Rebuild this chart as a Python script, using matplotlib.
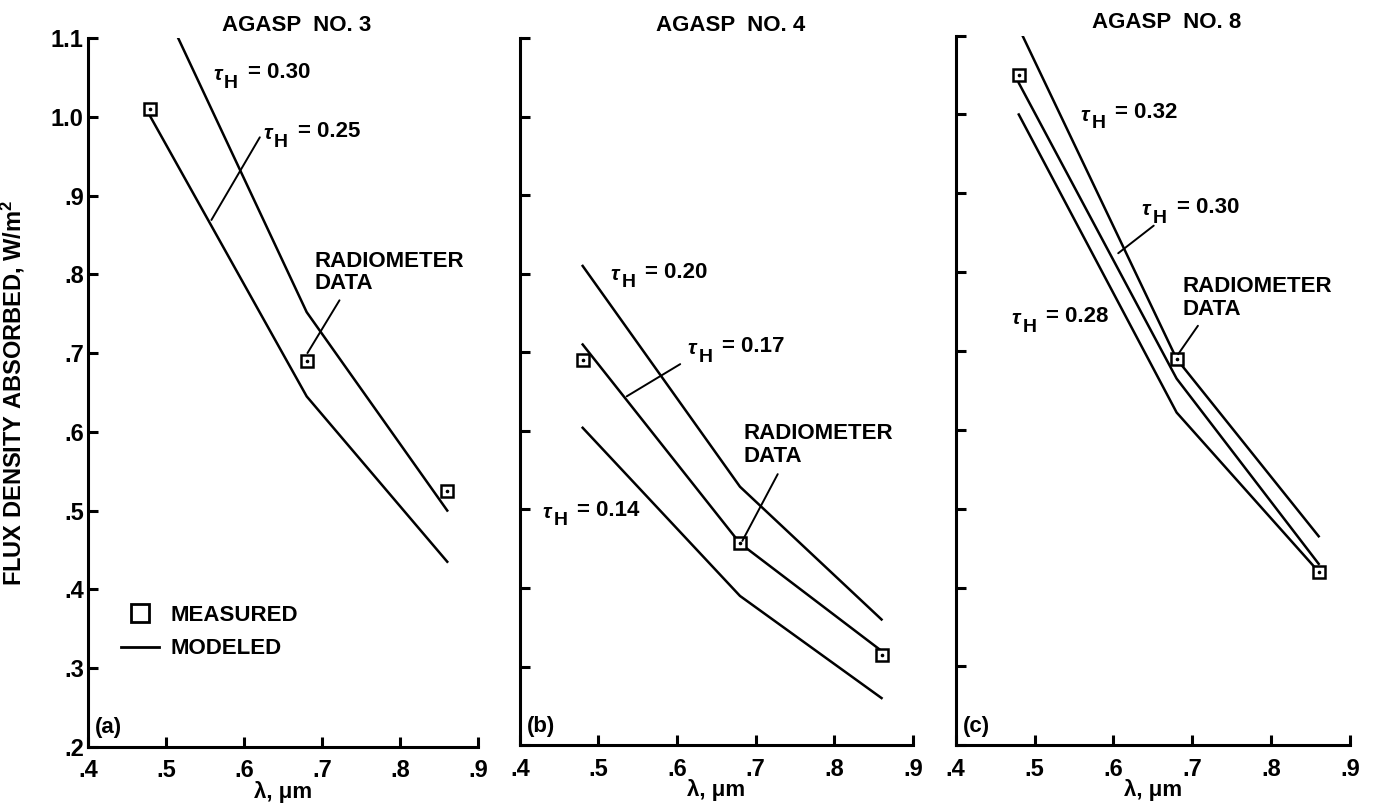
import matplotlib
matplotlib.use('Agg')
import matplotlib.pyplot as plt
from matplotlib.lines import Line2D
from matplotlib.ticker import FuncFormatter

plt.rcParams['font.family'] = ['Liberation Sans', 'DejaVu Sans']
plt.rcParams['font.weight'] = 'bold'
plt.rcParams['mathtext.fontset'] = 'custom'
plt.rcParams['mathtext.rm'] = 'Liberation Sans:bold'
plt.rcParams['mathtext.it'] = 'Liberation Sans:italic:bold'
plt.rcParams['mathtext.bf'] = 'Liberation Sans:bold'

# Wavelengths of the three channels, um
wl = [0.48, 0.68, 0.86]

# (a) AGASP NO. 3
a_meas = [1.01, 0.69, 0.525]
a_tau30 = [1.175, 0.752, 0.50]
a_tau25 = [1.0, 0.645, 0.435]

# (b) AGASP NO. 4
b_meas = [0.69, 0.457, 0.315]
b_tau20 = [0.81, 0.529, 0.36]
b_tau17 = [0.71, 0.457, 0.32]
b_tau14 = [0.604, 0.39, 0.26]

# (c) AGASP NO. 8
c_meas = [1.05, 0.69, 0.42]
c_tau32 = [1.11, 0.69, 0.465]
c_tau30 = [1.04, 0.665, 0.43]
c_tau28 = [1.0, 0.622, 0.42]

xticks = [0.4, 0.5, 0.6, 0.7, 0.8, 0.9]
yticks = [0.2, 0.3, 0.4, 0.5, 0.6, 0.7, 0.8, 0.9, 1.0, 1.1]

FS = 16
TFS = 17


def fmt(v, pos):
    s = '%.1f' % v
    return s[1:] if s.startswith('0') else s


fig = plt.figure(figsize=(13.75, 8.1), dpi=100)
ax_a = fig.add_axes([0.064, 0.078, 0.284, 0.875])
ax_b = fig.add_axes([0.378, 0.080, 0.286, 0.873])
ax_c = fig.add_axes([0.695, 0.080, 0.287, 0.876])


def setup(ax, title, tag, ylabels):
    ax.set_xlim(0.4, 0.9)
    ax.set_ylim(0.2, 1.1)
    for s in ['top', 'right']:
        ax.spines[s].set_visible(False)
    for s in ['left', 'bottom']:
        ax.spines[s].set_linewidth(2.2)
    ax.set_xticks(xticks)
    ax.set_yticks(yticks)
    ax.xaxis.set_major_formatter(FuncFormatter(fmt))
    ax.yaxis.set_major_formatter(FuncFormatter(fmt))
    ax.tick_params(direction='in', length=7, width=2.2, labelsize=TFS)
    ax.tick_params(axis='x', pad=9)
    ax.tick_params(axis='y', pad=3)
    if not ylabels:
        ax.tick_params(axis='y', labelleft=False)
    ax.set_xlabel('λ, μm', fontsize=FS, fontweight='bold')
    ax.xaxis.set_label_coords(0.5, -0.048)
    ax.text(0.535, 1.018, title, transform=ax.transAxes, ha='center', va='center',
            fontsize=FS, fontweight='bold')
    ax.text(0.018, 0.027, tag, transform=ax.transAxes, ha='left', va='center',
            fontsize=FS, fontweight='bold')


def series(ax, meas, lines):
    for y in lines:
        ax.plot(wl, y, color='black', lw=1.8, zorder=2)
    ax.plot(wl, meas, ls='none', marker='s', ms=9, mfc='white', mec='black',
            mew=1.8, zorder=3)
    ax.plot(wl, meas, ls='none', marker='o', ms=1.6, color='black', zorder=4)


def leader(ax, p0, p1):
    ax.annotate('', xy=p0, xytext=p1,
                arrowprops=dict(arrowstyle='-', color='black', lw=1.4,
                                shrinkA=0, shrinkB=0))


def tau(ax, x, y, v):
    # tau small and raised, H full-size and lowered, then "= value" on baseline y
    kw = dict(xy=(x, y), textcoords='offset points', va='baseline', ha='left',
              fontweight='bold')
    ax.annotate('τ', xytext=(0, -1.5), fontsize=15, style='italic', **kw)
    ax.annotate('H', xytext=(8, -7), fontsize=14, **kw)
    ax.annotate('= ' + v, xytext=(25, 0), fontsize=FS, **kw)


def label(ax, x, y, s):
    ax.text(x, y, s, fontsize=FS, fontweight='bold', ha='left', va='top',
            linespacing=1.1)


# Panel (a)
setup(ax_a, 'AGASP  NO. 3', '(a)', True)
series(ax_a, a_meas, [a_tau30, a_tau25])
tau(ax_a, 0.56, 1.049, '0.30')
tau(ax_a, 0.624, 0.974, '0.25')
leader(ax_a, (0.558, 0.869), (0.620, 0.974))
label(ax_a, 0.69, 0.83, 'RADIOMETER\nDATA')
leader(ax_a, (0.681, 0.70), (0.722, 0.767))
ax_a.set_ylabel('FLUX DENSITY ABSORBED, W/m$^2$', fontsize=TFS, fontweight='bold')
ax_a.yaxis.set_label_coords(-0.156, 0.5)
handles = [Line2D([], [], ls='none', marker='s', ms=13, mfc='white', mec='black', mew=2),
           Line2D([], [], color='black', lw=2)]
ax_a.legend(handles, ['MEASURED', 'MODELED'], loc='upper left',
            bbox_to_anchor=(0.085, 0.2), frameon=False,
            handlelength=1.7, handletextpad=0.5, labelspacing=0.55,
            borderpad=0, borderaxespad=0, prop={'weight': 'bold', 'size': FS})

# Panel (b)
setup(ax_b, 'AGASP  NO. 4', '(b)', False)
series(ax_b, b_meas, [b_tau20, b_tau17, b_tau14])
tau(ax_b, 0.515, 0.795, '0.20')
tau(ax_b, 0.613, 0.70, '0.17')
leader(ax_b, (0.536, 0.644), (0.604, 0.685))
tau(ax_b, 0.429, 0.492, '0.14')
label(ax_b, 0.684, 0.61, 'RADIOMETER\nDATA')
leader(ax_b, (0.683, 0.46), (0.728, 0.545))

# Panel (c)
setup(ax_c, 'AGASP  NO. 8', '(c)', False)
series(ax_c, c_meas, [c_tau32, c_tau30, c_tau28])
tau(ax_c, 0.558, 0.995, '0.32')
tau(ax_c, 0.636, 0.875, '0.30')
leader(ax_c, (0.606, 0.824), (0.651, 0.859))
tau(ax_c, 0.471, 0.737, '0.28')
label(ax_c, 0.688, 0.795, 'RADIOMETER\nDATA')
leader(ax_c, (0.682, 0.696), (0.707, 0.732))

fig.savefig('out.png', dpi=100)
